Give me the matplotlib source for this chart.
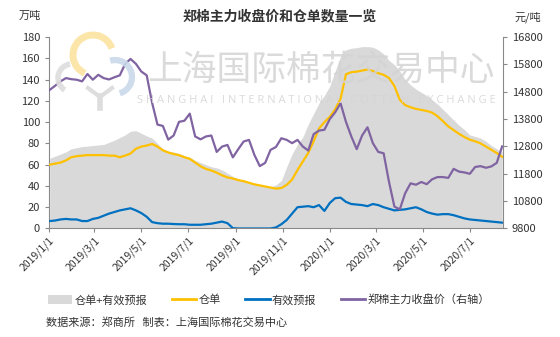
import numpy as np
import pandas as pd
import matplotlib
matplotlib.use("Agg")
from matplotlib import pyplot as plt
from matplotlib.patches import Patch, Arc
from matplotlib.lines import Line2D

plt.rcParams['font.family'] = ['Noto Sans CJK SC', 'DejaVu Sans']
plt.rcParams['axes.unicode_minus'] = False

# weekly observations, 2019-01-02 .. 2020-08-12
dates = pd.date_range('2019-01-02', periods=85, freq='7D')

total = [66, 68, 70, 72, 75, 76, 77, 77.5, 78, 78.5,
         79, 81, 83, 85.5, 88, 91.5, 92, 89.5, 87, 85,
         80, 75, 72.5, 72, 70.5, 68.5, 67, 64, 62, 60,
         58, 57, 55, 52, 49, 46.5, 45, 43.5, 42, 40.5,
         39.5, 39, 41, 45, 58, 70, 79, 86, 98, 108,
         118, 125, 134, 148, 162, 168, 169.5, 170, 171, 171,
         170.5, 168, 164, 158, 154, 148, 140, 135, 131, 128,
         125, 121, 117, 112, 107, 102, 97, 93, 88, 86.5,
         85, 82, 78, 75, 72]

warrants = [60, 61, 62, 64, 67, 68, 68.5, 69, 69, 69,
            69, 68.5, 68.5, 67, 68.5, 70.5, 75, 77, 78, 79.5,
            77, 73.5, 71.5, 70, 69, 67, 65.5, 62, 58.5, 56,
            54.5, 52.5, 50, 48, 47, 45.5, 44.5, 43, 41.5, 40.5,
            39.5, 38.5, 37.5, 38, 41, 46, 55, 63, 71, 82,
            94, 100, 105, 112, 122, 145, 147, 147.5, 148.5, 149.5,
            148, 146, 144.5, 141.5, 134, 121, 116, 114, 112.5, 111.5,
            110.5, 109, 105.5, 101, 96, 92.5, 89, 86, 83.5, 82,
            80, 77, 74, 71, 67.5]

forecast = [7, 7.5, 8.5, 9, 8.5, 8.5, 7, 7, 9, 10,
            12, 14, 15.5, 17, 18, 19, 17, 14.5, 11, 6,
            5, 4.5, 4.5, 4.2, 4, 4, 3.5, 3.5, 3.5, 4,
            4.5, 5.5, 6.5, 5, 0.3, 0, 0, 0, 0, 0,
            0, 0, 1, 4, 8, 14, 20, 20.5, 21, 20,
            22, 16.5, 24, 28.5, 29, 25, 23, 22.5, 22, 21,
            23, 22, 20, 18.5, 17, 17.5, 18, 19, 20, 18,
            15.5, 14, 13, 13.5, 13.5, 12.5, 11, 9.5, 8.5, 8,
            7.5, 7, 6.5, 6, 5.5]

price = [14870, 15020, 15180, 15300, 15260, 15240, 15180, 15450, 15240, 15420,
         15300, 15250, 15330, 15400, 15820, 16000, 15820, 15540, 15400, 14400,
         13600, 13550, 13050, 13200, 13700, 13740, 14000, 13165, 13060, 13165,
         13200, 12600, 12795, 12855, 12400, 12700, 12980, 13040, 12490, 12080,
         12200, 12675, 12780, 13100, 13040, 12920, 13040, 12795, 12650, 13250,
         13380, 13410, 13800, 14050, 14380, 13700, 13165, 12700, 13200, 13500,
         12920, 12600, 12550, 11500, 10600, 10500, 11090, 11450, 11400, 11500,
         11420, 11600, 11680, 11680, 11650, 11980, 11880, 11850, 11800, 12050,
         12080, 12020, 12070, 12200, 12800]

tick_dates = pd.to_datetime(['2019-01-01', '2019-03-01', '2019-05-01', '2019-07-01',
                             '2019-09-01', '2019-11-01', '2020-01-01', '2020-03-01',
                             '2020-05-01', '2020-07-01'])
tick_labels = ['2019/1/1', '2019/3/1', '2019/5/1', '2019/7/1', '2019/9/1',
               '2019/11/1', '2020/1/1', '2020/3/1', '2020/5/1', '2020/7/1']

c_total = '#d9d9d9'
c_warr = '#ffc000'
c_fc = '#0070c0'
c_price = '#8064a2'
c_axis = '#898989'
c_text = '#333333'
c_mark = '#d4d4d4'

W, H = 560, 337

def px(x, y):
    # pixel position (from top-left) -> figure fraction
    return (x / W, 1 - y / H)

fig = plt.figure(figsize=(5.6, 3.37), dpi=100)
ax = fig.add_axes([0.0875, 0.322, 0.8105, 0.568])
ax2 = ax.twinx()

ax.fill_between(dates, 0, total, color=c_total, lw=0, zorder=1)
ax.plot(dates, warrants, color=c_warr, lw=1.6, zorder=3)
ax.plot(dates, forecast, color=c_fc, lw=1.6, zorder=3)
ax2.plot(dates, price, color=c_price, lw=1.6, zorder=3)

ax.set_xlim(pd.Timestamp('2019-01-01'), pd.Timestamp('2020-08-13'))
ax.set_ylim(0, 180)
ax.set_yticks(np.arange(0, 181, 20))
ax2.set_ylim(9800, 16800)
ax2.set_yticks(np.arange(9800, 16801, 1000))
ax.set_xticks(tick_dates)
ax.set_xticklabels(tick_labels, rotation=45, ha='right', rotation_mode='anchor')

for a in (ax, ax2):
    a.spines['top'].set_visible(False)
    for s in ('left', 'right', 'bottom'):
        a.spines[s].set_color(c_axis)
    a.tick_params(colors=c_axis, labelcolor=c_text, labelsize=8, length=3, width=0.8)
ax.spines['right'].set_visible(False)
ax2.spines['left'].set_visible(False)
ax2.spines['bottom'].set_visible(False)
ax.tick_params(axis='x', labelsize=7.5, pad=2)
ax.set_zorder(ax2.get_zorder() - 1)
ax2.patch.set_visible(False)
ax.patch.set_visible(False)

# watermark
fig.text(0.573, 0.79, '上海国际棉花交易中心', fontsize=25, color=c_mark, alpha=0.85,
         ha='center', va='center', zorder=0)
fig.text(0.565, 0.703, 'S H A N G H A I   I N T E R N A T I O N A L   C O T T O N   E X C H A N G E',
         fontsize=8, family=['Open Sans', 'DejaVu Sans'], color=c_mark, alpha=0.85,
         ha='center', va='center', zorder=0)
logo = [((93, 55), 40, 30, 255, 5, '#fbe3a0'),
        ((115, 77), 34, -80, 100, 4.5, '#c9d9ea'),
        ((72, 78), 28, 95, 250, 4, '#dddddd')]
for (cx, cy), d, t1, t2, lw, col in logo:
    fig.patches.append(Arc(px(cx, cy), d / W, d / H, theta1=t1, theta2=t2,
                           lw=lw, color=col, alpha=0.9, transform=fig.transFigure))
fig.lines.append(Line2D([88 / W, 100 / W, 112 / W], [1 - 88 / H, 1 - 97 / H, 1 - 88 / H],
                        color='#dddddd', lw=3, transform=fig.transFigure))
fig.lines.append(Line2D([100 / W, 100 / W], [1 - 96 / H, 1 - 108 / H],
                        color='#dddddd', lw=4, transform=fig.transFigure))

fig.text(0.5, 0.95, '郑棉主力收盘价和仓单数量一览', fontsize=10, fontweight='bold',
         color=c_text, ha='center', va='center')
fig.text(0.034, 0.952, '万吨', fontsize=8, color=c_text, va='center')
fig.text(0.918, 0.948, '元/吨', fontsize=8, color=c_text, va='center')

handles = [Patch(color=c_total, lw=0),
           Line2D([], [], color=c_warr, lw=2),
           Line2D([], [], color=c_fc, lw=2),
           Line2D([], [], color=c_price, lw=2)]
labels = ['仓单+有效预报', '仓单', '有效预报', '郑棉主力收盘价（右轴）']
fig.legend(handles, labels, loc='center', bbox_to_anchor=(0.48, 0.11), ncol=4,
           frameon=False, fontsize=8, handlelength=2.2, handleheight=0.8,
           handletextpad=0.2, columnspacing=2.2, labelcolor=c_text)

fig.text(0.082, 0.044, '数据来源：郑商所   制表：上海国际棉花交易中心', fontsize=8,
         color=c_text, va='center')

fig.savefig('out.png', dpi=100)
